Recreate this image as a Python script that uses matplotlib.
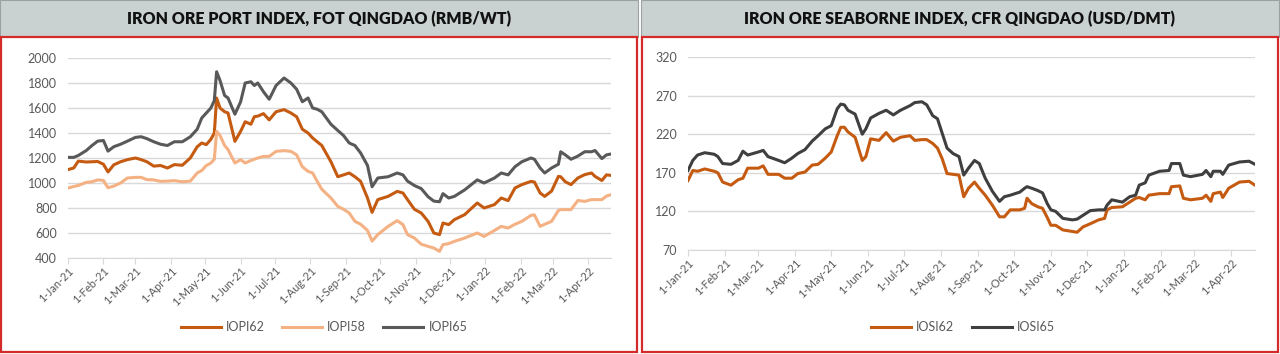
import matplotlib.pyplot as plt
import matplotlib.dates as mdates
from matplotlib.patches import Rectangle
from matplotlib.ticker import FuncFormatter
import pandas as pd

plt.rcParams["font.family"] = ["Lato", "DejaVu Sans"]

START = "2021-01-01"

# days since 1-Jan-21, iron ore port index (RMB/WT)
port_days = [0, 5, 9, 16, 21, 26, 31, 35, 40, 46, 52, 59, 64, 69, 75, 81, 87, 93, 100, 107,
             113, 117, 121, 125, 128, 130, 133, 137, 140, 146, 151, 155, 160, 163, 166, 171,
             176, 182, 189, 195, 200, 205, 210, 214, 218, 222, 230, 236, 241, 246, 251, 256,
             262, 266, 271, 280, 288, 293, 297, 303, 309, 315, 320, 325, 328, 333, 338, 347,
             358, 364, 373, 379, 385, 391, 397, 405, 408, 413, 417, 423, 429, 431, 435, 440,
             446, 452, 458, 461, 467, 471, 475]
iopi62 = [1107, 1120, 1175, 1168, 1170, 1172, 1150, 1088, 1145, 1170, 1187, 1200, 1187, 1170,
          1135, 1140, 1120, 1147, 1142, 1200, 1290, 1320, 1307, 1350, 1400, 1680, 1600, 1570,
          1560, 1333, 1413, 1490, 1470, 1530, 1535, 1555, 1505, 1570, 1587, 1560, 1530, 1430,
          1400, 1360, 1330, 1300, 1170, 1050, 1065, 1080, 1050, 1013, 880, 765, 867, 893, 933,
          920, 867, 790, 760, 693, 600, 587, 680, 667, 707, 747, 840, 800, 827, 880, 859, 960,
          987, 1013, 1008, 920, 893, 935, 1053, 1050, 1010, 987, 1040, 1067, 1080, 1053, 1020,
          1065, 1061]
iopi58 = [960, 972, 980, 1005, 1010, 1025, 1020, 962, 975, 1000, 1040, 1045, 1045, 1027, 1025,
          1013, 1015, 1019, 1010, 1015, 1080, 1100, 1140, 1160, 1190, 1413, 1380, 1300, 1267,
          1160, 1187, 1160, 1180, 1190, 1200, 1213, 1213, 1253, 1259, 1253, 1225, 1130, 1093,
          1080, 1013, 950, 880, 813, 790, 760, 693, 670, 620, 535, 587, 653, 699, 667, 587,
          560, 510, 493, 480, 453, 507, 515, 533, 560, 600, 573, 620, 653, 640, 670, 693, 741,
          745, 653, 670, 693, 780, 787, 787, 787, 860, 853, 867, 867, 867, 895, 907]
iopi65 = [1205, 1205, 1220, 1260, 1300, 1335, 1340, 1255, 1290, 1310, 1335, 1365, 1370, 1355,
          1330, 1310, 1300, 1330, 1330, 1370, 1430, 1520, 1560, 1600, 1660, 1890, 1820, 1700,
          1680, 1550, 1650, 1800, 1810, 1780, 1800, 1730, 1670, 1780, 1840, 1800, 1750, 1650,
          1680, 1600, 1590, 1570, 1470, 1420, 1380, 1320, 1300, 1240, 1140, 970, 1040, 1050,
          1080, 1065, 1015, 980, 955, 890, 855, 850, 915, 880, 893, 945, 1025, 1000, 1040, 1080,
          1065, 1130, 1170, 1200, 1190, 1120, 1080, 1120, 1150, 1250, 1225, 1190, 1215, 1250,
          1250, 1260, 1195, 1225, 1232]

# days since 1-Jan-21, iron ore seaborne index (USD/DMT)
sea_days = [0, 4, 8, 14, 22, 25, 29, 36, 42, 46, 50, 59, 63, 67, 76, 81, 87, 92, 98, 104, 109,
            115, 120, 125, 128, 131, 134, 140, 146, 149, 153, 160, 166, 172, 178, 186, 190, 196,
            200, 205, 209, 213, 217, 222, 227, 231, 235, 240, 244, 249, 255, 261, 265, 270, 278,
            282, 284, 288, 293, 297, 301, 304, 308, 314, 322, 326, 331, 337, 344, 349, 351, 355,
            364, 370, 375, 378, 383, 386, 395, 403, 405, 412, 415, 421, 431, 434, 438, 440, 446,
            448, 453, 462, 470, 475]
iosi62 = [160, 173, 172, 175, 172, 170, 158, 154, 161, 163, 176, 176, 179, 168, 168, 163, 163,
          169, 171, 180, 181, 189, 197, 218, 229, 229, 223, 216, 186, 191, 214, 212, 222, 211,
          216, 218, 212, 213, 213, 208, 202, 188, 169, 168, 167, 139, 150, 158, 150, 141, 128,
          113, 113, 122, 122, 124, 137, 130, 126, 124, 112, 102, 102, 96, 94, 93, 100, 104, 109,
          111, 122, 125, 126, 132, 137, 138, 135, 141, 143, 143, 152, 153, 137, 135, 137, 141,
          133, 143, 145, 138, 150, 158, 159, 154]
iosi65 = [173, 186, 193, 196, 194, 191, 182, 181, 186, 198, 193, 197, 199, 191, 186, 183, 189,
          195, 200, 211, 218, 227, 231, 253, 259, 258, 251, 246, 220, 227, 241, 247, 251, 245,
          251, 257, 261, 262, 258, 244, 240, 221, 202, 195, 191, 167, 176, 186, 182, 163, 146,
          133, 139, 141, 145, 150, 152, 150, 147, 144, 130, 122, 120, 111, 109, 110, 115, 121,
          122, 122, 128, 135, 132, 139, 141, 154, 157, 167, 172, 173, 182, 182, 167, 165, 168,
          173, 165, 172, 172, 168, 180, 184, 185, 181]

panels = [
    {
        "title": "IRON ORE PORT INDEX, FOT QINGDAO (RMB/WT)",
        "days": port_days,
        "series": [("IOPI62", iopi62, "#c55a11"), ("IOPI58", iopi58, "#f4b183"),
                   ("IOPI65", iopi65, "#595959")],
        "yticks": list(range(400, 2001, 200)),
        "box": (0, 638),
        "axes": (68, 611, 58, 258),
        "legend_x": 324,
    },
    {
        "title": "IRON ORE SEABORNE INDEX, CFR QINGDAO (USD/DMT)",
        "days": sea_days,
        "series": [("IOSI62", iosi62, "#c55a11"), ("IOSI65", iosi65, "#3f3f3f")],
        "yticks": list(range(70, 321, 50)),
        "box": (641, 1279),
        "axes": (688, 1255, 57, 250),
        "legend_x": 963,
    },
]

W, H = 1280, 354
fig = plt.figure(figsize=(W / 100, H / 100), dpi=100)

month_ticks = pd.date_range("2021-01-01", "2022-04-01", freq="MS")
date_fmt = FuncFormatter(lambda v, pos: (lambda d: f"{d.day}-{d:%b-%y}")(mdates.num2date(v)))

for p in panels:
    x0, x1 = p["box"]
    # header band and red frame, kept behind the axes
    fig.patches.append(Rectangle((x0 / W, 1 - 37 / H), (x1 - x0) / W, 37 / H,
                                 transform=fig.transFigure, facecolor="#c9d2d1",
                                 edgecolor="#9aa3a3", lw=0.8, zorder=-2))
    fig.patches.append(Rectangle(((x0 + 1) / W, 2 / H), (x1 - x0 - 2) / W, (H - 39) / H,
                                 transform=fig.transFigure, facecolor="white",
                                 edgecolor="#d42a2a", lw=1.6, zorder=-2))
    fig.text((x0 + x1) / 2 / W, 1 - 19 / H, p["title"], ha="center", va="center",
             fontsize=11.5, fontweight="heavy", color="#111111")

    l, r, t, b = p["axes"]
    ax = fig.add_axes([l / W, 1 - b / H, (r - l) / W, (b - t) / H])
    ax.patch.set_alpha(0)
    dates = pd.Timestamp(START) + pd.to_timedelta(p["days"], unit="D")
    for name, vals, color in p["series"]:
        ax.plot(dates, vals, color=color, lw=2.2, label=name, solid_joinstyle="round")

    ax.set_xlim(dates[0], dates[-1])
    ax.set_ylim(p["yticks"][0], p["yticks"][-1])
    ax.set_yticks(p["yticks"])
    ax.set_xticks(month_ticks)
    ax.xaxis.set_major_formatter(date_fmt)
    ax.grid(axis="y", color="#d9d9d9", lw=1)
    ax.set_axisbelow(True)
    for s in ["top", "right", "left"]:
        ax.spines[s].set_visible(False)
    ax.spines["bottom"].set_color("#d9d9d9")
    ax.tick_params(axis="y", length=0, labelsize=9, labelcolor="#595959", pad=8)
    ax.tick_params(axis="x", length=4, color="#d9d9d9", labelsize=8,
                   labelcolor="#595959", pad=1)
    for lab in ax.get_xticklabels():
        lab.set_rotation(45)
        lab.set_ha("right")
        lab.set_rotation_mode("anchor")

    ax.legend(loc="center", bbox_to_anchor=(p["legend_x"] / W, 1 - 327 / H),
              bbox_transform=fig.transFigure, ncol=len(p["series"]), frameon=False,
              fontsize=9, labelcolor="#595959", handlelength=3.2, columnspacing=1.4,
              handletextpad=0.4)

fig.savefig("out.png", dpi=100)
